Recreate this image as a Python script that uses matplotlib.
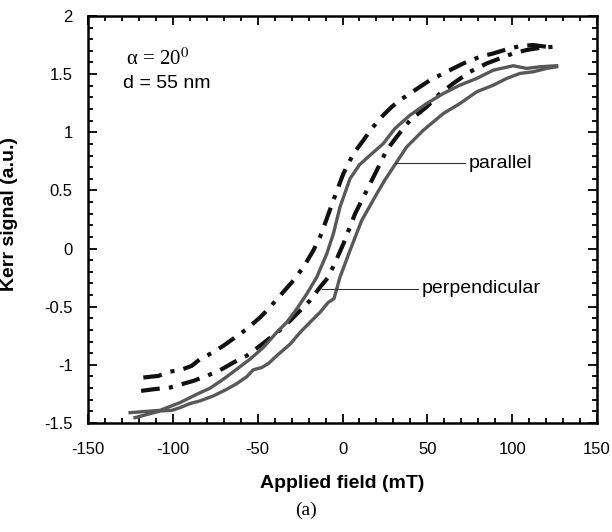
import matplotlib
matplotlib.use("Agg")
import matplotlib.pyplot as plt
from matplotlib.ticker import MultipleLocator

plt.rcParams['font.family'] = ['Liberation Sans', 'DejaVu Sans']
plt.rcParams['mathtext.fontset'] = 'stix'

# perpendicular (dash-dot) - upper / left branch
perp_up_x = [-117.4, -108.5, -101.7, -95.8, -88.9, -84.0, -77.1, -70.2, -63.3, -56.5, -48.6, -43.7,
             -36.8, -29.0, -23.1, -17.2, -13.3, -9.3, -5.4, -2.5, 0.5, 6.4, 12.3, 17.2, 24.0, 29.0,
             33.9, 42.7, 51.6, 61.4, 71.2, 81.0, 88.9, 96.8, 104.6, 112.4, 120.3, 125.2]
perp_up_y = [-1.109, -1.095, -1.058, -1.046, -1.009, -0.951, -0.899, -0.836, -0.764, -0.693, -0.592, -0.520,
             -0.405, -0.276, -0.161, -0.017, 0.097, 0.256, 0.414, 0.528, 0.644, 0.816, 0.931, 1.032, 1.147, 1.218,
             1.276, 1.362, 1.448, 1.520, 1.592, 1.649, 1.678, 1.713, 1.741, 1.750, 1.735, 1.730]
# perpendicular (dash-dot) - lower / right branch
perp_dn_x = [-118.7, -111.5, -101.7, -87.9, -80.0, -72.2, -64.3, -56.5, -48.6, -36.8, -30.9, -25.0,
             -19.2, -13.3, -8.4, -3.4, 0.5, 7.4, 14.3, 20.2, 26.0, 31.9, 39.8, 49.6, 57.5, 65.3,
             75.1, 85.0, 92.8, 100.6, 108.5, 116.4, 124.2]
perp_dn_y = [-1.224, -1.210, -1.195, -1.138, -1.095, -1.046, -0.980, -0.922, -0.836, -0.701, -0.621, -0.534,
             -0.448, -0.333, -0.247, -0.089, 0.040, 0.299, 0.500, 0.672, 0.845, 0.960, 1.103, 1.218, 1.333, 1.420,
             1.520, 1.592, 1.635, 1.678, 1.707, 1.726, 1.735]
# parallel (solid grey) - upper / left branch
par_up_x = [-125.2, -107.5, -95.8, -85.9, -78.1, -70.2, -62.3, -54.5, -46.7, -38.8, -32.9, -27.0,
            -21.1, -15.2, -9.3, -5.4, -1.5, 4.4, 10.0, 16.2, 24.0, 30.9, 39.8, 49.6, 59.4, 69.2,
            79.1, 88.9, 100.6, 108.5, 116.4, 126.2]
par_up_y = [-1.411, -1.391, -1.325, -1.253, -1.201, -1.123, -1.037, -0.951, -0.851, -0.721, -0.635, -0.520,
            -0.391, -0.247, -0.046, 0.126, 0.356, 0.600, 0.720, 0.802, 0.902, 1.032, 1.147, 1.247, 1.333, 1.405,
            1.463, 1.534, 1.572, 1.549, 1.563, 1.572]
# parallel (solid grey) - lower / right branch
par_dn_x = [-122.3, -107.5, -100.6, -95.8, -89.9, -84.0, -76.1, -68.2, -62.3, -56.5, -52.6, -47.6,
            -43.7, -38.8, -30.9, -25.0, -19.2, -13.3, -8.4, -5.0, -1.5, 4.4, 11.3, 20.2, 25.0, 30.0,
            37.8, 47.6, 59.4, 69.2, 79.1, 88.9, 96.8, 104.6, 112.4, 120.3, 126.2]
par_dn_y = [-1.454, -1.397, -1.391, -1.368, -1.333, -1.310, -1.267, -1.210, -1.161, -1.103, -1.043, -1.023,
            -0.989, -0.922, -0.822, -0.721, -0.635, -0.549, -0.463, -0.430, -0.247, -0.017, 0.241, 0.471, 0.590, 0.701,
            0.873, 1.017, 1.161, 1.247, 1.348, 1.405, 1.463, 1.506, 1.520, 1.549, 1.563]

xticks = [-150, -100, -50, 0, 50, 100, 150]
yticks = [-1.5, -1, -0.5, 0, 0.5, 1, 1.5, 2]

fig = plt.figure(figsize=(6.12, 5.32), dpi=100)
ax = fig.add_axes([0.1438, 0.2049, 0.8317, 0.7651])

dd = (0, (4.5, 2.2, 1.0, 2.2))
ax.plot(perp_up_x, perp_up_y, color='#111111', lw=3.0, linestyle=dd)
ax.plot(perp_dn_x, perp_dn_y, color='#111111', lw=3.0, linestyle=dd)
ax.plot(par_up_x, par_up_y, color='#585858', lw=2.4)
ax.plot(par_dn_x, par_dn_y, color='#585858', lw=2.4)

ax.set_xlim(-150, 150)
ax.set_ylim(-1.5, 2)
ax.set_xticks(xticks)
ax.set_xticklabels([f"{v:g}" for v in xticks])
ax.set_yticks(yticks)
ax.set_yticklabels([f"{v:g}" for v in yticks])
ax.xaxis.set_minor_locator(MultipleLocator(10))
ax.yaxis.set_minor_locator(MultipleLocator(0.1))
ax.tick_params(which='both', direction='in', top=True, right=True, width=1.3, labelsize=12)
ax.tick_params(which='major', length=6.5)
ax.tick_params(which='minor', length=3.5)
ax.tick_params(axis='x', which='major', pad=14)
ax.tick_params(axis='y', which='major', pad=11)
for s in ax.spines.values():
    s.set_linewidth(1.8)

ax.set_xlabel('Applied field (mT)', fontsize=14, fontweight='bold', va='center')
ax.xaxis.set_label_coords(0.5, -0.148)
ax.set_ylabel('Kerr signal (a.u.)', fontsize=14, fontweight='bold', va='center')
ax.yaxis.set_label_coords(-0.155, 0.513)

ax.text(-127.5, 1.63, 'α = 20$^{0}$', fontsize=15, va='center', ha='left',
        family=['Liberation Serif', 'DejaVu Serif'])
ax.text(-129.3, 1.42, 'd = 55 nm', fontsize=14, va='center', ha='left')

ax.plot([30.9, 72.2], [0.733, 0.733], color='#333333', lw=0.8)
ax.text(74.5, 0.733, 'parallel', fontsize=14, va='center', ha='left')
ax.plot([-12.1, 44.5], [-0.345, -0.345], color='#333333', lw=0.8)
ax.text(46.8, -0.345, 'perpendicular', fontsize=14, va='center', ha='left')

fig.text(306/612, 1 - 510/532, '(a)', fontsize=14, family=['Liberation Serif', 'DejaVu Serif'],
         ha='center', va='center')

fig.savefig('out.png', dpi=100)
